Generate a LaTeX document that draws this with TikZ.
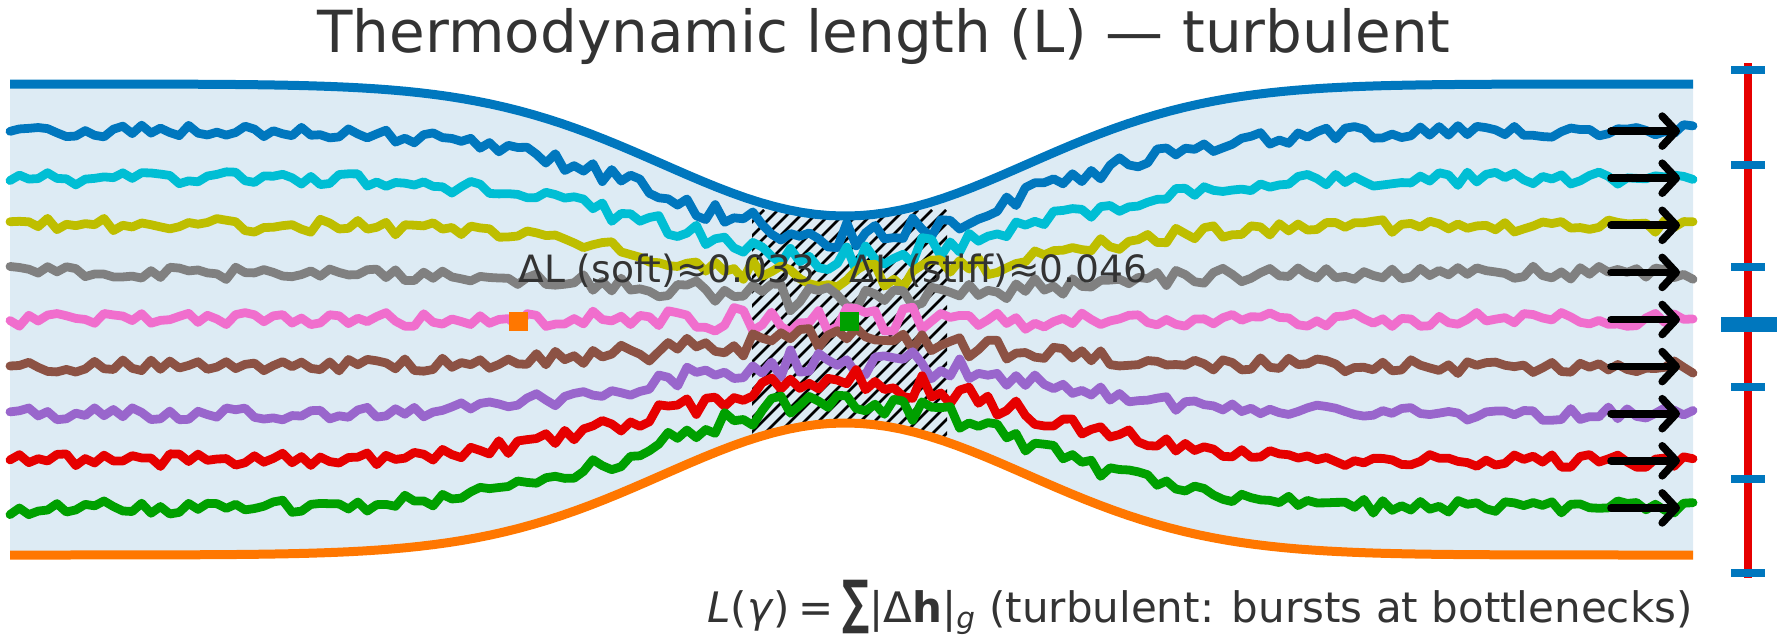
\documentclass[tikz,border=0pt]{standalone}
\usepackage{fontspec}
\usepackage{graphicx}
\setmainfont{DejaVu Sans}
\usetikzlibrary{arrows.meta}
\definecolor{chanfill}{RGB}{221,235,244}
\definecolor{wallblue}{RGB}{0,119,190}
\definecolor{wallorange}{RGB}{255,119,0}
\definecolor{textgray}{RGB}{51,51,51}
\definecolor{lblue}{RGB}{0,119,190}
\definecolor{lcyan}{RGB}{0,190,212}
\definecolor{lolive}{RGB}{190,190,0}
\definecolor{lgray}{RGB}{128,128,128}
\definecolor{lpink}{RGB}{240,110,205}
\definecolor{lbrown}{RGB}{140,82,68}
\definecolor{lpurple}{RGB}{153,102,204}
\definecolor{lred}{RGB}{230,0,0}
\definecolor{lgreen}{RGB}{0,160,0}
\tikzset{
  wall/.style={line width=4.5pt},
  flowline/.style={line width=4.4pt,line join=round,line cap=round},
  flowarrow/.style={line width=3.8pt,line cap=round,-{Straight Barb[round,length=7pt,width=15pt]}},
  hatchline/.style={line width=1.35pt,black},
  marker/.style={minimum size=9.5pt,inner sep=0pt},
  gaplabel/.style={font=\fontsize{18.8pt}{22pt}\selectfont,text=textgray,inner sep=0pt},
  tickmark/.style={wallblue,line width=4.2pt},
}
\begin{document}
\begin{tikzpicture}[x=0.5pt,y=-0.5pt,
  declare function={topw(\x)=84+132*exp(-pow((\x-845)/258,2));
                    botw(\x)=555-132*exp(-pow((\x-845)/258,2));
                    burst(\x)=1+1.0*exp(-pow((\x-845)/200,2));}]
  \useasboundingbox (0,0) rectangle (1779,643);
  \pgfmathsetseed{11}
  % タイトル
  \node[anchor=base,inner sep=0pt,text=textgray,font=\fontsize{29pt}{34pt}\selectfont] (title) at (884,52) {Thermodynamic length (L) — turbulent};
  % 流路(背景)
  \fill[chanfill] plot[domain=10:1693,samples=120] (\x,{topw(\x)}) -- plot[domain=1693:10,samples=120] (\x,{botw(\x)}) -- cycle;
  % ボトルネックの斜線
  \begin{scope}
    \clip (752,0) rectangle (947,643);
    \clip plot[domain=10:1693,samples=120] (\x,{topw(\x)}) -- plot[domain=1693:10,samples=120] (\x,{botw(\x)}) -- cycle;
    \foreach \k in {0,...,33}{\draw[hatchline] (500+\k*14,460) -- ++(250,-250);}
  \end{scope}
  % 壁(上下)
  \draw[wall,wallblue] plot[domain=10:1693,samples=120] (\x,{topw(\x)});
  \draw[wall,wallorange] plot[domain=10:1693,samples=120] (\x,{botw(\x)});
  % ゆらぐ流線と右端の矢印
  \foreach \c [count=\i] in {lblue,lcyan,lolive,lgray,lpink,lbrown,lpurple,lred,lgreen}{
    \pgfmathsetmacro{\f}{\i/10}
    \draw[flowline,\c] plot[domain=10:1693,samples=180] (\x,{topw(\x)+\f*(botw(\x)-topw(\x))+7*rand*burst(\x)});
    \pgfmathsetmacro{\ya}{84+\f*471}
    \draw[flowarrow] (1611,\ya) -- (1680,\ya);
  }
  % ΔL のマーカーとラベル
  \node[marker,fill=wallorange] (softmark) at (518,321) {};
  \node[marker,fill=lgreen] (stiffmark) at (849,321) {};
  \node[gaplabel,anchor=base west] (softlabel) at (518,282) {ΔL (soft)≈0.033};
  \node[gaplabel,anchor=base west] (stifflabel) at (849,282) {ΔL (stiff)≈0.046};
  % 右側のスケール
  \draw[lred,line width=3.8pt] (1748,63) -- (1748,578);
  \foreach \ty in {70,165,267,387,479,573}{\draw[tickmark] (1731,\ty) -- (1765,\ty);}
  \draw[tickmark,line width=7.5pt] (1721,324) -- (1777,324);
  % 式
  \node[anchor=base east,inner sep=0pt,text=textgray,font=\fontsize{21pt}{25pt}\selectfont] (formula) at (1693,622)
    {\textit{L}(\textit{γ})\hspace{0.2em}=\hspace{0.2em}\scalebox{0.9}[1.4]{\textbf{∑}}|Δ\textbf{h}|\textsubscript{\textit{g}} (turbulent: bursts at bottlenecks)};
\end{tikzpicture}
\end{document}
